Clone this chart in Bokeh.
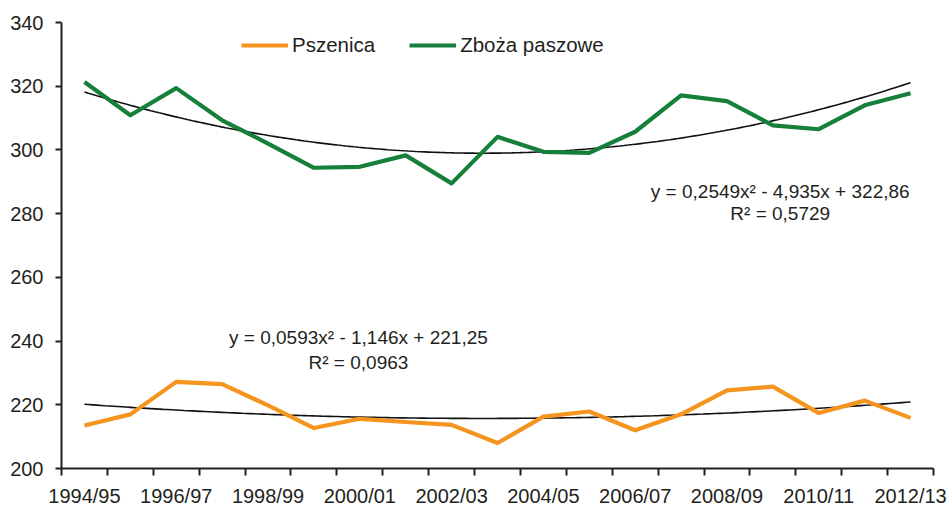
import numpy as np
from bokeh.plotting import figure
from bokeh.models import FixedTicker, Legend, LegendItem, ColumnDataSource, Range1d
from bokeh.core.properties import value
from bokeh.embed import file_html
from bokeh.resources import INLINE

seasons = ["1994/95", "1995/96", "1996/97", "1997/98", "1998/99", "1999/00", "2000/01",
           "2001/02", "2002/03", "2003/04", "2004/05", "2005/06", "2006/07", "2007/08",
           "2008/09", "2009/10", "2010/11", "2011/12", "2012/13"]
pszenica = [213.5, 217.0, 227.2, 226.5, 219.8, 212.7, 215.6, 214.6, 213.7, 208.0,
            216.3, 217.9, 212.0, 217.0, 224.5, 225.7, 217.4, 221.3, 215.9]
zboza = [321.3, 310.9, 319.4, 309.3, 302.0, 294.4, 294.7, 298.3, 289.5, 304.1,
         299.4, 299.1, 305.7, 317.1, 315.3, 307.7, 306.5, 314.0, 317.8]
# trend coefficients as printed on the chart (a*x^2 + b*x + c)
trend_pszenica = [0.0593, -1.146, 221.25]
trend_zboza = [0.2549, -4.935, 322.86]
eq_pszenica = ["y = 0,0593x² - 1,146x + 221,25", "R² = 0,0963"]
eq_zboza = ["y = 0,2549x² - 4,935x + 322,86", "R² = 0,5729"]
y_ticks = [200, 220, 240, 260, 280, 300, 320, 340]

TXT = "#231f20"
FONT = "Liberation Sans"
ORANGE = "#F5951F"
GREEN = "#16803A"

n = len(seasons)
xs = list(range(1, n + 1))

p = figure(width=952, height=509, output_backend="svg", toolbar_location=None,
           x_range=Range1d(0.5, n + 0.5), y_range=Range1d(200, 340),
           min_border_left=61, min_border_right=19, min_border_top=22, min_border_bottom=39)
p.outline_line_color = None
p.grid.grid_line_color = None
p.background_fill_color = "white"
p.border_fill_color = "white"

# x axis: labels at every second category centre, ticks at category boundaries
p.xaxis.ticker = FixedTicker(ticks=xs[::2], minor_ticks=[i + 0.5 for i in range(0, n + 1)])
p.xaxis.major_label_overrides = {x: seasons[x - 1] for x in xs[::2]}
p.xaxis.major_tick_line_color = None
p.xaxis.major_tick_out = 0
p.xaxis.major_tick_in = 0
p.xaxis.minor_tick_out = 7
p.xaxis.minor_tick_in = 0
p.xaxis.minor_tick_line_color = TXT
p.xaxis.minor_tick_line_width = 2
p.xaxis.major_label_standoff = 9

p.yaxis.ticker = FixedTicker(ticks=y_ticks, minor_ticks=[])
p.yaxis.major_tick_out = 6
p.yaxis.major_tick_in = 0
p.yaxis.major_tick_line_width = 2
p.yaxis.major_tick_line_color = TXT
p.yaxis.major_label_standoff = 12

for ax in (p.xaxis, p.yaxis):
    ax.axis_line_color = TXT
    ax.axis_line_width = 2
    ax.major_label_text_font = FONT
    ax.major_label_text_font_size = "20px"
    ax.major_label_text_color = TXT

# trend curves
xf = np.linspace(1, n, 200)
def poly(c, x):
    return c[0] * x ** 2 + c[1] * x + c[2]
p.line(xf, poly(trend_zboza, xf), line_color="#111111", line_width=1.6)
p.line(xf, poly(trend_pszenica, xf), line_color="#111111", line_width=1.6)

src = ColumnDataSource(dict(x=xs, psz=pszenica, zb=zboza))
r_psz = p.line("x", "psz", source=src, line_color=ORANGE, line_width=4.2, line_join="round")
r_zb = p.line("x", "zb", source=src, line_color=GREEN, line_width=4.2, line_join="round")

# equations
p.text(x=[16.16, 16.16], y=[287.0, 280.2], text=eq_zboza, text_font=value(FONT),
       text_font_size="19px", text_color=TXT, text_align="center", text_baseline="alphabetic")
p.text(x=[6.97, 6.97], y=[241.1, 233.3], text=eq_pszenica, text_font=value(FONT),
       text_font_size="19px", text_color=TXT, text_align="center", text_baseline="alphabetic")

legend = Legend(items=[LegendItem(label="Pszenica", renderers=[r_psz]),
                       LegendItem(label="Zboża paszowe", renderers=[r_zb])],
                orientation="horizontal", location=(180, 411),
                glyph_width=47, glyph_height=20, label_standoff=4, spacing=34,
                padding=0, margin=0, border_line_color=None, background_fill_alpha=0,
                label_text_font=FONT, label_text_font_size="20.5px", label_text_color=TXT)
p.add_layout(legend, "center")

open("out.html", "w").write(file_html(p, INLINE))
